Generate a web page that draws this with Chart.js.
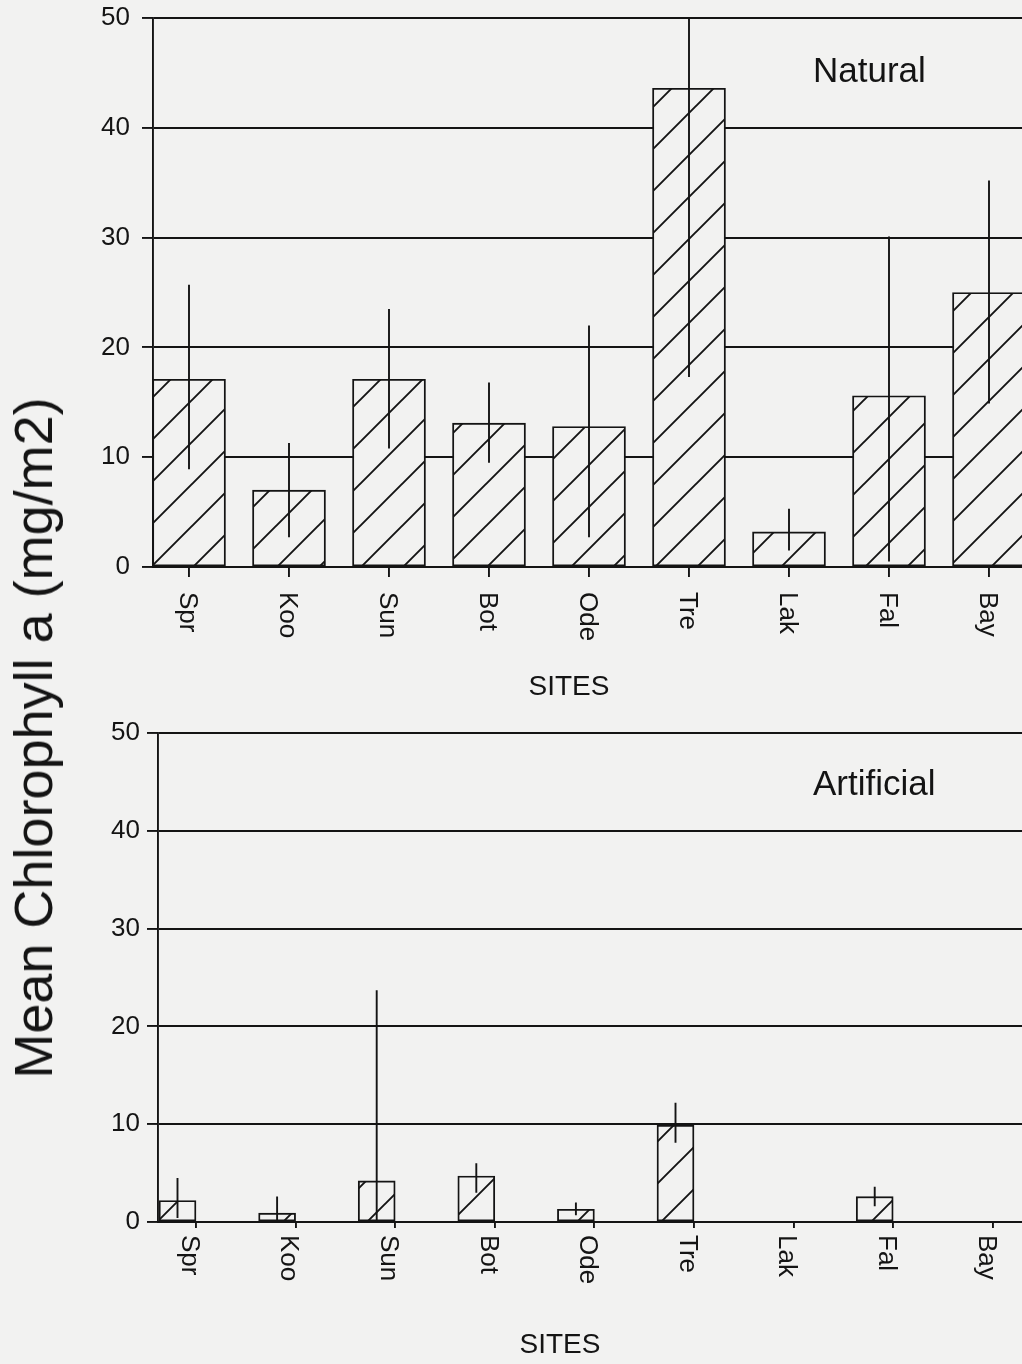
<!DOCTYPE html>
<html>
<head>
<meta charset="utf-8">
<script src="https://cdn.jsdelivr.net/npm/chart.js@4.4.1/dist/chart.umd.min.js"></script>
<style>
  html, body { margin: 0; padding: 0; background: #f2f2f1; }
  body { width: 1022px; height: 1364px; position: relative; overflow: hidden;
         font-family: "Liberation Sans", Arial, Helvetica, sans-serif; }
  #natural { position: absolute; left: 0; top: -20px; }
  #artificial { position: absolute; left: 0; top: 700px; }
  #ytitle { position: absolute; left: 33px; top: 738px;
            transform: translate(-50%, -50%) rotate(-90deg);
            font-size: 54px; line-height: 1; white-space: nowrap; color: #141414; }
</style>
</head>
<body>
<canvas id="natural" width="1022" height="720"></canvas>
<canvas id="artificial" width="1022" height="664"></canvas>
<div id="ytitle">Mean Chlorophyll a (mg/m2)</div>
<script>
// Sampling sites and y-axis ticks shared by both panels
const sites = ['Spr', 'Koo', 'Sun', 'Bot', 'Ode', 'Tre', 'Lak', 'Fal', 'Bay'];
const yTicks = [0, 10, 20, 30, 40, 50];

// Natural substrate: mean chlorophyll a and error-bar ends (mg/m2)
const naturalMean = [17.1, 7.0, 17.1, 13.1, 12.8, 43.6, 3.2, 15.6, 25.0];
const naturalHigh = [25.7, 11.3, 23.5, 16.8, 22.0, 50.0, 5.3, 30.1, 35.2];
const naturalLow  = [8.9, 2.7, 10.8, 9.5, 2.7, 17.3, 1.5, 0.5, 14.9];

// Artificial substrate (no samples at Lak and Bay)
const artificialMean = [2.2, 0.9, 4.2, 4.7, 1.3, 9.9, null, 2.6, null];
const artificialHigh = [4.5, 2.6, 23.7, 6.0, 2.0, 12.2, null, 3.6, null];
const artificialLow  = [0.4, 0.2, 0.0, 3.0, 0.7, 8.1, null, 1.6, null];

const INK = '#141414';
const PAPER = '#f2f2f1';
const FONT = '"Liberation Sans", Arial, Helvetica, sans-serif';
const LW = 1.9;

// Diagonal "/" hatch on a paper-coloured ground, 42px repeat
function hatch(ctx, shiftX) {
  const t = document.createElement('canvas');
  t.width = 42; t.height = 42;
  const c = t.getContext('2d');
  c.fillStyle = PAPER;
  c.fillRect(0, 0, 42, 42);
  c.strokeStyle = INK;
  c.lineWidth = LW;
  c.beginPath();
  c.moveTo(-2, 44); c.lineTo(44, -2);
  c.moveTo(-10, 10); c.lineTo(10, -10);
  c.moveTo(32, 52); c.lineTo(52, 32);
  c.stroke();
  const p = ctx.createPattern(t, 'repeat');
  p.setTransform(new DOMMatrix().translate(shiftX, 0));
  return p;
}

function panel(id, o) {
  const canvas = document.getElementById(id);
  const ctx = canvas.getContext('2d');
  const fill = hatch(ctx, o.hatchShift);

  const datasets = [{
    data: o.mean.map((v, i) => ({ x: i, y: v })),
    backgroundColor: fill,
    borderColor: INK,
    borderWidth: LW,
    borderSkipped: false,
    barThickness: o.barW
  }];
  if (o.pairedSlot) {
    // second (empty) slot of each grouped pair keeps the bar on the left half
    datasets.push({
      data: sites.map((_, i) => ({ x: i, y: null })),
      backgroundColor: fill,
      borderColor: INK,
      borderWidth: LW,
      barThickness: o.barW
    });
  }

  const decor = {
    id: 'decor',
    afterDatasetsDraw(chart) {
      const c = chart.ctx;
      const a = chart.chartArea;
      const ys = chart.scales.y;
      const meta = chart.getDatasetMeta(0);
      c.save();
      c.beginPath();
      c.rect(a.left, a.top - 1, a.right - a.left, a.bottom - a.top + 2);
      c.clip();
      c.strokeStyle = INK;
      c.lineWidth = LW;
      c.beginPath();
      o.mean.forEach((v, i) => {
        if (v === null) return;
        const x = meta.data[i].x;
        c.moveTo(x, ys.getPixelForValue(o.high[i]));
        c.lineTo(x, ys.getPixelForValue(o.low[i]));
      });
      c.stroke();
      c.restore();
    },
    afterDraw(chart) {
      const c = chart.ctx;
      const a = chart.chartArea;
      const xs = chart.scales.x;
      c.save();
      c.fillStyle = INK;
      c.font = '26px ' + FONT;
      c.textAlign = 'left';
      c.textBaseline = 'middle';
      sites.forEach((s, i) => {
        const x = xs.getPixelForValue(i) + o.labelDx;
        c.save();
        c.translate(x, a.bottom + o.labelGap);
        c.rotate(Math.PI / 2);
        c.fillText(s, 0, 0);
        c.restore();
      });
      c.font = '28px ' + FONT;
      c.textAlign = 'center';
      c.fillText('SITES', o.sitesX, o.sitesY);
      c.font = '35px ' + FONT;
      c.textAlign = 'left';
      c.textBaseline = 'alphabetic';
      c.fillText(o.name, o.nameX, o.nameY);
      c.restore();
    }
  };

  return new Chart(ctx, {
    type: 'bar',
    data: { datasets },
    plugins: [decor],
    options: {
      responsive: false,
      animation: false,
      events: [],
      layout: { padding: { top: o.padTop, left: 0, right: 0, bottom: 0 } },
      plugins: { legend: { display: false }, tooltip: { enabled: false } },
      scales: {
        x: {
          type: 'linear',
          min: o.xMin,
          max: o.xMax,
          offset: false,
          afterBuildTicks: s => { s.ticks = sites.map((_, i) => ({ value: i })); },
          afterFit: s => { s.height = o.xAxisH; },
          grid: { drawOnChartArea: false, drawTicks: true, tickLength: o.xTickLen,
                  color: INK, lineWidth: LW, offset: false },
          border: { display: true, color: INK, width: LW },
          ticks: { display: false }
        },
        y: {
          min: 0,
          max: 50,
          afterBuildTicks: s => { s.ticks = yTicks.map(v => ({ value: v })); },
          afterFit: s => { s.width = o.yAxisW; },
          grid: { color: INK, lineWidth: LW, drawTicks: true, tickLength: 11, tickColor: INK },
          border: { display: true, color: INK, width: LW },
          ticks: { color: INK, font: { family: FONT, size: 26, lineHeight: 1 }, padding: o.yTickPad }
        }
      }
    }
  });
}

// top panel canvas sits 20px above the page edge
panel('natural', {
  name: 'Natural', nameX: 813, nameY: 102,
  mean: naturalMean, high: naturalHigh, low: naturalLow,
  padTop: 38, yAxisW: 153, xAxisH: 133,
  xMin: -0.36, xMax: 8.33, barW: 73, pairedSlot: false,
  hatchShift: 24, xTickLen: 10, yTickPad: 12,
  labelDx: -2, labelGap: 25, sitesX: 569, sitesY: 707
});

panel('artificial', {
  name: 'Artificial', nameX: 813, nameY: 95,
  mean: artificialMean, high: artificialHigh, low: artificialLow,
  padTop: 33, yAxisW: 158, xAxisH: 142,
  xMin: -0.3815, xMax: 8.293, barW: 37, pairedSlot: true,
  hatchShift: 7, xTickLen: 6, yTickPad: 7,
  labelDx: -7, labelGap: 13, sitesX: 560, sitesY: 645
});
</script>
</body>
</html>
